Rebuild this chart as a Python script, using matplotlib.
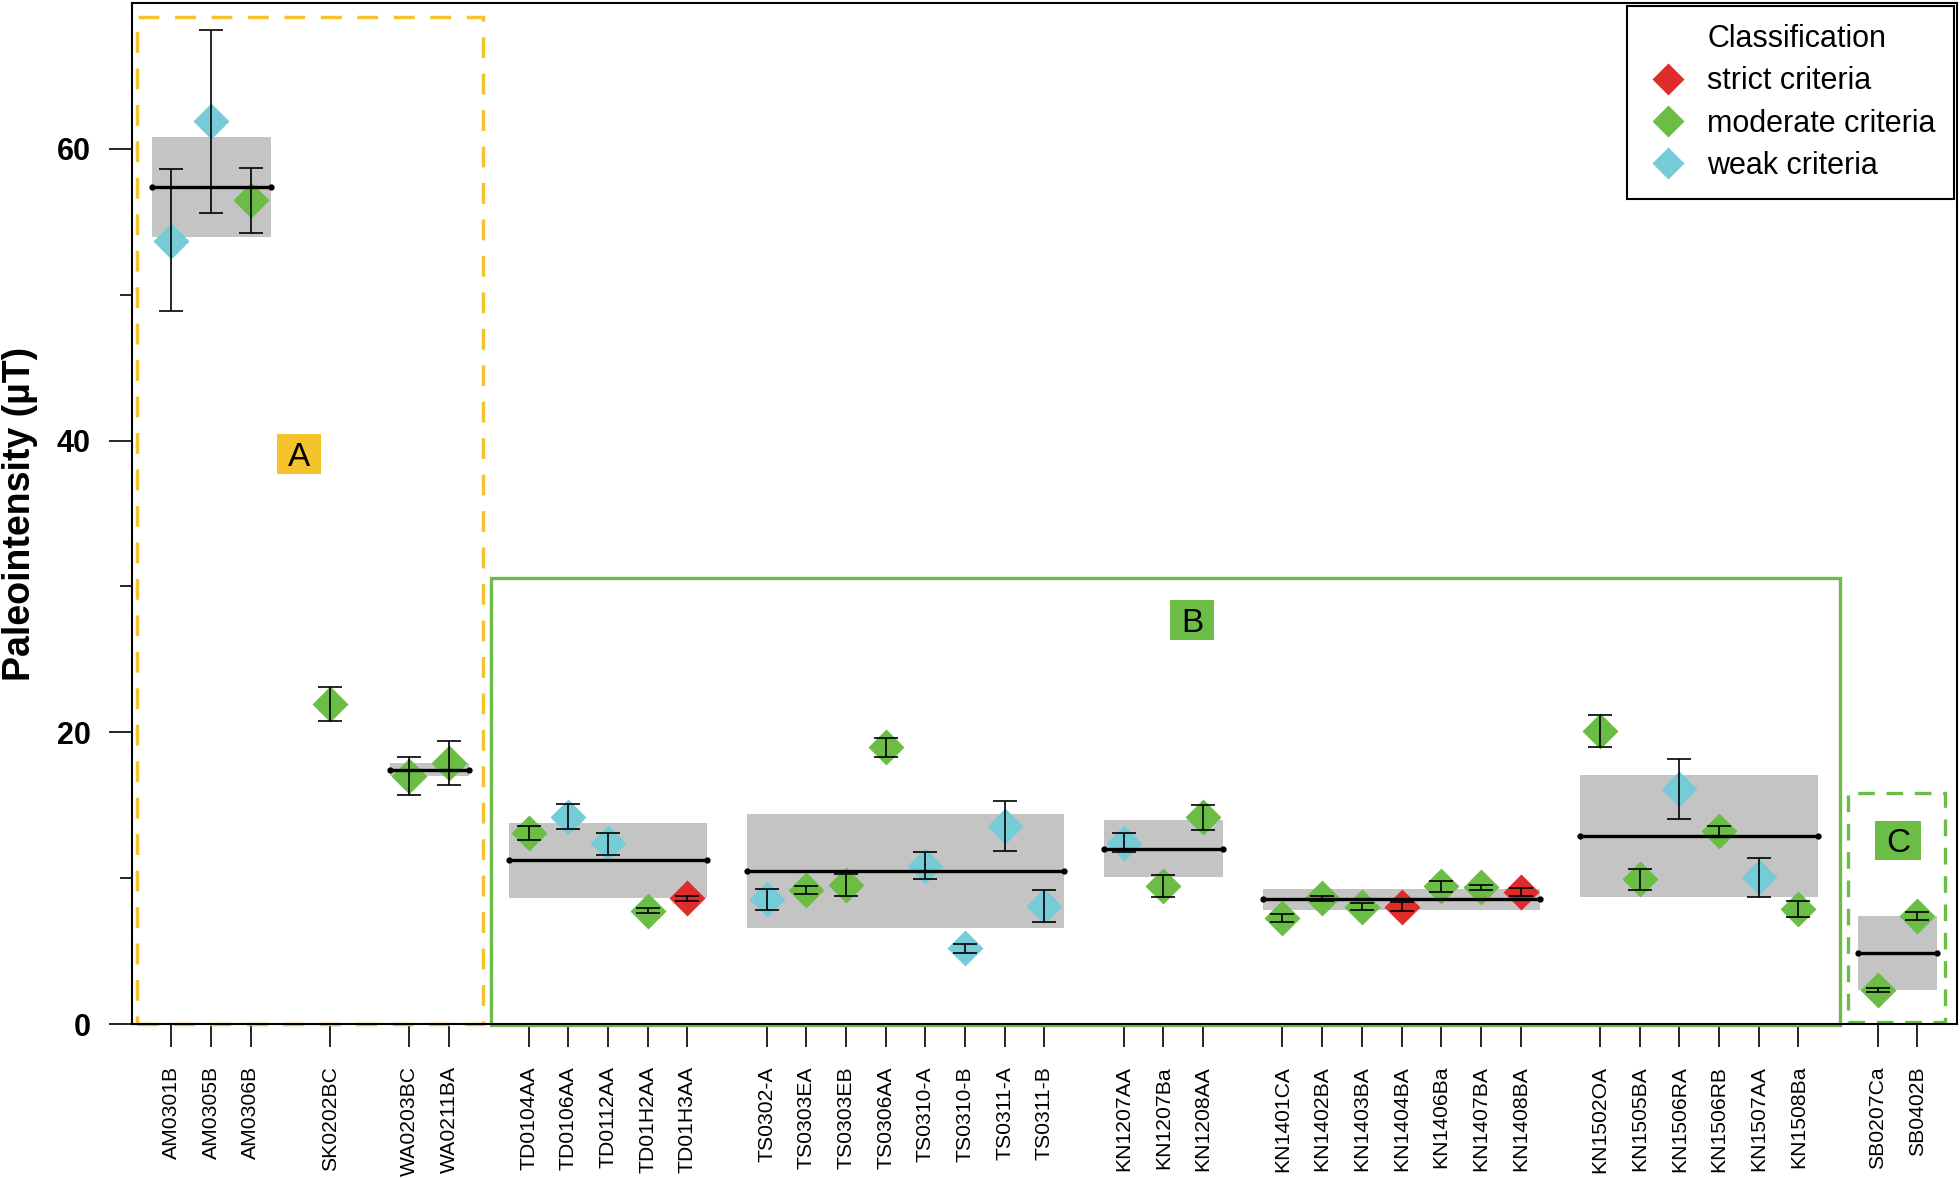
import matplotlib
matplotlib.use('Agg')
import matplotlib.pyplot as plt
from matplotlib.patches import Rectangle
from matplotlib.lines import Line2D
import numpy as np

plt.rcParams['font.family'] = ['Liberation Sans', 'DejaVu Sans']

# ---------------- data ----------------
sample_names = [
    'AM0301B', 'AM0305B', 'AM0306B',
    'SK0202BC',
    'WA0203BC', 'WA0211BA',
    'TD0104AA', 'TD0106AA', 'TD0112AA', 'TD01H2AA', 'TD01H3AA',
    'TS0302-A', 'TS0303EA', 'TS0303EB', 'TS0306AA', 'TS0310-A', 'TS0310-B', 'TS0311-A', 'TS0311-B',
    'KN1207AA', 'KN1207Ba', 'KN1208AA',
    'KN1401CA', 'KN1402BA', 'KN1403BA', 'KN1404BA', 'KN1406Ba', 'KN1407BA', 'KN1408BA',
    'KN1502OA', 'KN1505BA', 'KN1506RA', 'KN1506RB', 'KN1507AA', 'KN1508Ba',
    'SB0207Ca', 'SB0402B',
]
sample_group = (['AM'] * 3 + ['SK'] + ['WA'] * 2 + ['TD'] * 5 + ['TS'] * 8 +
                ['KN12'] * 3 + ['KN14'] * 7 + ['KN15'] * 6 + ['SB'] * 2)
paleointensity = [
    53.7, 61.9, 56.5,
    21.96,
    17.0, 17.9,
    13.10, 14.22, 12.40, 7.78, 8.63,
    8.58, 9.20, 9.54, 18.97, 10.84, 5.20, 13.58, 8.12,
    12.44, 9.45, 14.20,
    7.28, 8.63, 8.06, 8.06, 9.45, 9.38, 9.06,
    20.09, 9.93, 16.12, 13.26, 10.09, 7.90,
    2.33, 7.42,
]
err_lower = [
    48.9, 55.6, 54.2,
    20.8,
    15.7, 16.4,
    12.60, 13.36, 11.62, 7.60, 8.42,
    7.85, 8.92, 8.81, 18.33, 9.93, 4.90, 11.89, 7.00,
    11.82, 8.70, 13.33,
    7.00, 8.47, 7.83, 7.76, 9.06, 9.20, 8.79,
    18.99, 9.20, 14.06, 12.81, 8.74, 7.33,
    2.19, 7.14,
]
err_upper = [
    58.6, 68.1, 58.7,
    23.1,
    18.3, 19.4,
    13.56, 15.07, 13.10, 7.99, 8.79,
    9.25, 9.47, 10.27, 19.61, 11.78, 5.50, 15.27, 9.22,
    13.10, 10.20, 15.04,
    7.58, 8.79, 8.31, 8.38, 9.84, 9.54, 9.34,
    21.18, 10.64, 18.15, 13.56, 11.37, 8.47,
    2.47, 7.67,
]
classification = [
    'weak', 'weak', 'moderate',
    'moderate',
    'moderate', 'moderate',
    'moderate', 'weak', 'weak', 'moderate', 'strict',
    'weak', 'moderate', 'moderate', 'moderate', 'weak', 'weak', 'weak', 'weak',
    'weak', 'moderate', 'moderate',
    'moderate', 'moderate', 'moderate', 'strict', 'moderate', 'moderate', 'strict',
    'moderate', 'moderate', 'weak', 'moderate', 'weak', 'moderate',
    'moderate', 'moderate',
]
class_order = ['strict', 'moderate', 'weak']
class_labels = ['strict criteria', 'moderate criteria', 'weak criteria']
class_colors = {'strict': '#E02B2B', 'moderate': '#6BBD45', 'weak': '#75CBD6'}

# ---------------- positions (one empty slot between groups) ----------------
positions = []
pos = 1
prev = None
for g in sample_group:
    if prev is not None and g != prev:
        pos += 1
    positions.append(pos)
    pos += 1
    prev = g
positions = np.array(positions, dtype=float)
vals = np.array(paleointensity)
lo = np.array(err_lower)
hi = np.array(err_upper)

# ---------------- figure ----------------
fig = plt.figure(figsize=(19.6, 11.78), dpi=100)
ax = fig.add_axes([0.0672, 0.1305, 0.9313, 0.8672])

grey = '#C4C4C4'
yellow = '#F5C42C'
green = '#6BBD45'

# group boxes (mean +- std) and mean lines
group_names = []
for g in sample_group:
    if g not in group_names:
        group_names.append(g)
for g in group_names:
    idx = [i for i, s in enumerate(sample_group) if s == g]
    if len(idx) < 2:
        continue
    v = vals[idx]
    m = v.mean()
    s = v.std()
    x0 = positions[idx[0]] - 0.5
    x1 = positions[idx[-1]] + 0.5
    ax.add_patch(Rectangle((x0, m - s), x1 - x0, 2 * s, facecolor=grey,
                           edgecolor='none', zorder=1))
    ax.plot([x0, x1], [m, m], color='black', lw=2.4, marker='o', ms=3.5,
            zorder=6, solid_capstyle='butt')

# diamonds
for c in class_order:
    sel = [i for i, k in enumerate(classification) if k == c]
    ax.plot(positions[sel], vals[sel], ls='none', marker='D', ms=18,
            color=class_colors[c], mec='none', zorder=3)

# error bars
ax.errorbar(positions, vals, yerr=[vals - lo, hi - vals], fmt='none',
            ecolor='black', elinewidth=1.2, capsize=8.5, capthick=1.2, zorder=5)

# region frames
ax.add_patch(Rectangle((0.143, 0.0), 8.86 - 0.143, 69.0, fill=False,
                       edgecolor=yellow, lw=2.5, ls=(0, (6, 4.5)),
                       zorder=2, clip_on=False))
ax.add_patch(Rectangle((9.06, -0.08), 43.04 - 9.06, 30.55 + 0.08, fill=False,
                       edgecolor=green, lw=2.4, zorder=2, clip_on=False))
ax.add_patch(Rectangle((43.26, 0.18), 45.69 - 43.26, 15.86 - 0.18, fill=False,
                       edgecolor=green, lw=2.4, ls=(0, (5, 3.5)),
                       zorder=2, clip_on=False))

# region labels
for lab, (x0, y0, w, h), fc in [('A', (3.664, 37.69, 1.116, 2.74), yellow),
                                ('B', (26.17, 26.30, 1.11, 2.74), green),
                                ('C', (43.94, 11.26, 1.15, 2.69), green)]:
    ax.add_patch(Rectangle((x0, y0), w, h, facecolor=fc, edgecolor='none', zorder=2))
    ax.text(x0 + w / 2, y0 + h / 2, lab, ha='center', va='center_baseline',
            fontsize=24, color='black', zorder=3)

# axes setup
ax.set_xlim(0, 46)
ax.set_ylim(0, 70)
ax.set_xticks(positions)
ax.set_xticklabels(sample_names, rotation=90, fontsize=15.2)
ax.set_yticks([0, 20, 40, 60])
ax.set_yticks([10, 30, 50], minor=True)
ax.tick_params(axis='x', length=16.5, width=1.2, pad=13.5)
ax.tick_params(axis='y', which='major', length=16.5, width=1.2, pad=13, labelsize=22)
ax.tick_params(axis='y', which='minor', length=8.6, width=1.2)
for t in ax.get_yticklabels():
    t.set_fontweight('bold')
for sp in ax.spines.values():
    sp.set_linewidth(1.5)
    sp.set_zorder(7)

ax.set_ylabel('Paleointensity (µT)', fontsize=27, fontweight='bold')
ax.yaxis.set_label_coords(-0.0513, 0.5)

# legend
handles = [Line2D([], [], ls='none', marker=None, label='Classification')]
for c, l in zip(class_order, class_labels):
    handles.append(Line2D([], [], ls='none', marker='D', ms=18, color=class_colors[c],
                          mec='none', label=l))
leg = ax.legend(handles=handles, loc='upper right', bbox_to_anchor=(1, 1),
                borderaxespad=0.1, fontsize=22, handlelength=1.48,
                handletextpad=0.55, borderpad=0.6, labelspacing=0.4,
                markerscale=0.9, fancybox=False, framealpha=1, edgecolor='black')
leg.get_frame().set_linewidth(1.5)
leg.set_zorder(10)

fig.savefig('out.png', dpi=100)
